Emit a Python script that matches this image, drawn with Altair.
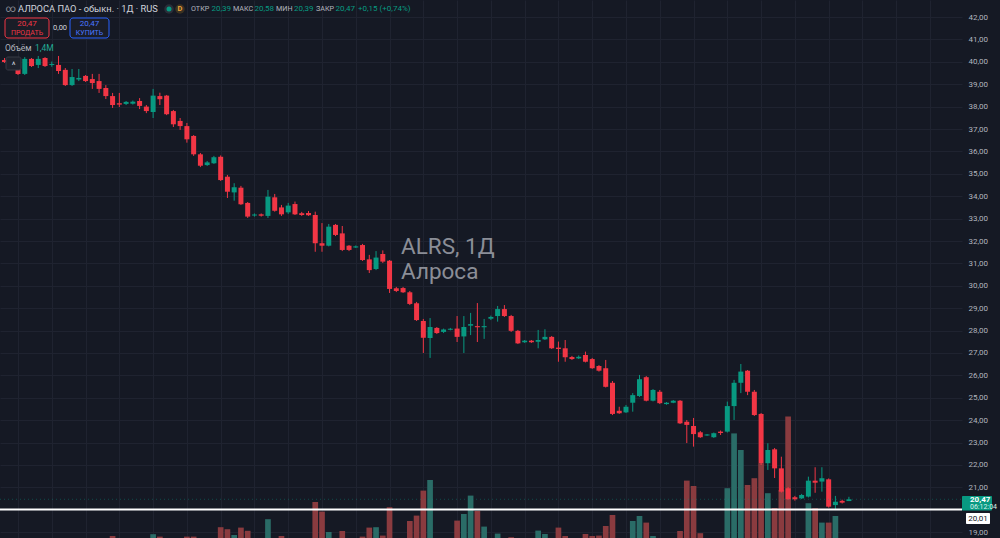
import altair as alt
import pandas as pd

# ---------------- data (daily candles, oldest -> newest) ----------------
opens = [40.08, 40.04, 39.68, 39.46, 40.13, 39.86, 40.17, 39.86, 39.86, 39.64,
         38.96, 39.21, 39.37, 39.23, 39.14, 38.83, 38.47, 38.15, 38.12, 38.13,
         38.25, 38.00, 37.76, 38.47, 38.49, 37.80, 37.36, 37.13, 36.69, 35.87,
         35.39, 35.47, 35.76, 34.87, 34.17, 34.38, 33.70, 33.14, 33.19, 33.12,
         33.95, 33.50, 33.28, 33.65, 33.24, 33.25, 33.16, 31.90, 31.79, 32.72,
         32.34, 31.79, 31.71, 31.82, 31.18, 30.75, 31.42, 31.12, 29.89, 29.90,
         29.71, 29.22, 28.43, 27.67, 28.12, 27.94, 28.04, 28.09, 27.74, 28.22,
         28.20, 28.15, 28.53, 28.65, 28.96, 28.65, 27.99, 27.48, 27.55, 27.50,
         27.61, 27.72, 27.24, 27.21, 26.82, 26.76, 26.91, 26.73, 26.42, 26.32,
         25.67, 24.42, 24.35, 24.78, 25.08, 25.92, 24.87, 25.27, 24.72, 24.78,
         24.87, 23.93, 23.74, 23.46, 23.32, 23.24, 23.49, 23.49, 24.63, 25.67,
         26.21, 25.27, 24.28, 22.08, 22.70, 21.85, 20.96, 20.56, 20.51, 20.59,
         21.30, 21.26, 21.36, 20.21, 20.40, 20.39]
highs = [40.17, 40.13, 39.77, 40.21, 40.17, 40.26, 40.21, 40.01, 40.26, 39.72,
         39.68, 39.68, 39.41, 39.46, 39.46, 38.96, 38.61, 38.61, 38.25, 38.27,
         38.38, 38.07, 38.79, 38.62, 38.52, 37.85, 37.49, 37.27, 36.73, 35.93,
         35.57, 35.80, 35.82, 34.95, 34.58, 34.46, 33.74, 33.23, 33.23, 34.28,
         34.10, 33.61, 33.70, 33.76, 33.30, 33.34, 33.31, 32.80, 32.76, 32.76,
         32.67, 31.82, 31.80, 31.87, 31.38, 31.55, 31.58, 31.15, 29.95, 29.95,
         29.77, 29.28, 28.52, 28.56, 28.16, 28.09, 28.12, 28.65, 28.65, 28.79,
         29.23, 28.52, 28.67, 29.10, 29.14, 28.70, 28.03, 27.58, 27.58, 28.03,
         28.06, 27.76, 27.51, 27.58, 26.87, 26.89, 27.06, 26.78, 26.46, 26.69,
         25.75, 24.60, 24.68, 25.21, 26.02, 25.97, 25.39, 25.35, 24.81, 24.90,
         24.90, 24.01, 24.10, 23.52, 23.38, 23.45, 23.54, 24.83, 25.80, 26.51,
         26.24, 25.35, 24.32, 22.97, 22.76, 22.37, 21.02, 20.62, 20.71, 21.48,
         21.90, 21.90, 21.40, 20.62, 20.45, 20.58]
lows = [39.95, 39.64, 39.41, 39.41, 39.77, 39.72, 39.77, 39.78, 39.46, 38.92,
        38.92, 39.14, 39.10, 38.79, 38.61, 38.34, 37.94, 37.98, 38.07, 38.09,
        37.89, 37.71, 37.49, 38.07, 37.62, 37.09, 36.96, 36.39, 35.80, 35.30,
        35.35, 35.44, 34.68, 33.92, 33.80, 33.61, 33.03, 33.09, 33.09, 33.03,
        33.31, 33.12, 33.21, 33.16, 33.12, 33.12, 31.52, 31.52, 31.76, 32.22,
        31.55, 31.55, 31.69, 31.11, 30.57, 30.70, 31.02, 29.68, 29.72, 29.68,
        29.14, 28.43, 27.00, 26.78, 27.85, 27.89, 28.01, 27.49, 27.00, 27.80,
        27.49, 27.63, 28.47, 28.40, 28.61, 27.94, 27.40, 27.45, 27.45, 27.21,
        27.58, 27.18, 26.61, 26.61, 26.69, 26.73, 26.58, 26.29, 26.17, 25.46,
        24.23, 24.28, 24.32, 24.38, 25.04, 24.84, 24.84, 24.72, 24.69, 24.76,
        23.83, 22.98, 22.82, 23.21, 23.30, 23.21, 23.34, 23.45, 24.01, 25.21,
        25.12, 24.19, 22.00, 21.78, 21.42, 20.77, 20.44, 20.41, 20.48, 20.55,
        20.76, 20.81, 20.10, 19.99, 20.28, 20.39]
closes = [39.99, 39.72, 39.46, 40.13, 39.81, 40.13, 39.81, 39.90, 39.59, 38.96,
          39.32, 39.28, 39.14, 39.05, 38.79, 38.47, 38.07, 38.09, 38.21, 38.22,
          38.03, 37.80, 38.49, 38.33, 37.66, 37.21, 37.13, 36.54, 35.87, 35.36,
          35.51, 35.74, 34.72, 34.20, 34.40, 33.64, 33.09, 33.18, 33.13, 33.98,
          33.35, 33.19, 33.58, 33.19, 33.16, 33.15, 31.90, 31.79, 32.64, 32.27,
          31.60, 31.60, 31.76, 31.15, 30.70, 31.26, 31.08, 29.86, 29.77, 29.71,
          29.19, 28.47, 27.68, 28.16, 27.89, 28.05, 28.08, 27.72, 28.16, 28.29,
          28.15, 28.20, 28.61, 28.96, 28.65, 27.99, 27.43, 27.55, 27.48, 27.58,
          27.72, 27.21, 27.18, 26.81, 26.73, 26.83, 26.61, 26.32, 26.21, 25.49,
          24.28, 24.31, 24.60, 25.12, 25.83, 24.87, 25.35, 24.76, 24.78, 24.87,
          23.86, 23.79, 23.38, 23.24, 23.36, 23.42, 23.43, 24.63, 25.67, 26.17,
          25.27, 24.23, 22.08, 22.67, 21.85, 20.81, 20.47, 20.47, 20.66, 21.30,
          21.21, 21.41, 20.14, 20.36, 20.32, 20.47]
volumes_m = [3.0, 2.8, 3.2, 3.5, 2.6, 2.9, 2.4, 2.0, 3.1, 3.4,
             2.7, 2.2, 2.1, 2.6, 3.0, 3.3, 5.0, 2.9, 2.0, 1.9,
             2.6, 2.8, 5.9, 4.7, 3.6, 3.4, 3.0, 4.7, 4.7, 3.5,
             2.2, 2.6, 9.4, 8.4, 5.5, 9.2, 7.6, 2.4, 2.3, 13.4,
             3.8, 5.0, 3.2, 3.6, 2.1, 2.3, 22.0, 17.2, 7.0, 3.4,
             7.5, 3.0, 2.0, 4.7, 9.2, 9.4, 5.2, 19.4, 2.9, 3.8,
             12.5, 15.2, 27.7, 33.0, 3.6, 2.4, 2.0, 12.7, 16.0, 25.2,
             17.5, 9.7, 3.8, 6.2, 3.7, 4.4, 3.9, 2.0, 2.2, 7.7,
             6.0, 3.6, 9.2, 5.0, 2.5, 2.3, 6.0, 5.0, 5.2, 10.0,
             15.5, 3.9, 3.6, 12.5, 15.0, 11.7, 5.0, 3.9, 2.1, 3.4,
             7.5, 32.7, 30.0, 6.4, 2.6, 3.5, 2.4, 28.9, 56.3, 48.0,
             30.5, 33.9, 41.4, 26.4, 19.0, 28.0, 64.7, 3.5, 3.0, 21.4,
             18.9, 11.7, 11.7, 15.0, 3.5, 1.4]

price_ticks = [42, 41, 40, 39, 38, 37, 36, 35, 34, 33, 32, 31, 30, 29, 28,
               27, 26, 25, 24, 23, 22, 21, 19]
time_grid = list(range(2, 142, 5))
hline_price = 20.01
last_price = 20.47

df = pd.DataFrame({"i": list(range(len(opens))), "open": opens, "high": highs,
                   "low": lows, "close": closes, "vol": volumes_m})

# ---------------- styles ----------------
BG = "#151924"
GRID = "#1f2330"
UP = "#089981"
DOWN = "#f23645"
UP_VOL = "#2a6c67"
DOWN_VOL = "#8a3b3f"
TXT = "#d1d4dc"
AX = "#b2b5be"
FONT = "Roboto"

W, H = 962, 538
xs = alt.Scale(domain=[-0.666, 141.74], nice=False, zero=False)
ps = alt.Scale(domain=[18.741, 42.759], nice=False, zero=False)
vs = alt.Scale(domain=[4, 273], nice=False, zero=False)

x_axis = alt.Axis(values=time_grid, grid=True, gridColor=GRID, labels=False,
                  ticks=False, domain=False, title=None)
p_axis = alt.Axis(orient="right", values=price_ticks, grid=True, gridColor=GRID,
                  labelExpr="replace(format(datum.value, '.2f'), '.', ',')",
                  labelColor=AX, labelFontSize=8, labelFont=FONT, labelPadding=6,
                  labelAlign="left", ticks=False, domain=False, title=None)

up_test = "datum.close >= datum.open"

base = alt.Chart(df).transform_calculate(
    bx1="datum.i - 0.37", bx2="datum.i + 0.37",
    vx1="datum.i - 0.42", vx2="datum.i + 0.42",
    zero="0",
    btop="max(datum.open, datum.close)", bbot="min(datum.open, datum.close)",
).transform_calculate(
    bt="(datum.btop - datum.bbot) < 0.045 ? (datum.btop + datum.bbot) / 2 + 0.0225 : datum.btop",
    bb="(datum.btop - datum.bbot) < 0.045 ? (datum.btop + datum.bbot) / 2 - 0.0225 : datum.bbot",
)

volume = base.mark_rect(clip=True).encode(
    x=alt.X("vx1:Q", scale=xs, axis=x_axis), x2="vx2:Q",
    y=alt.Y("zero:Q", scale=vs, axis=None), y2="vol:Q",
    color=alt.condition(up_test, alt.value(UP_VOL), alt.value(DOWN_VOL)),
)

wicks = base.mark_rule(strokeWidth=1, clip=True).encode(
    x=alt.X("i:Q", scale=xs, axis=x_axis),
    y=alt.Y("low:Q", scale=ps, axis=p_axis), y2="high:Q",
    color=alt.condition(up_test, alt.value(UP), alt.value(DOWN)),
)

bodies = base.mark_rect(clip=True).encode(
    x=alt.X("bx1:Q", scale=xs, axis=x_axis), x2="bx2:Q",
    y=alt.Y("bt:Q", scale=ps, axis=p_axis), y2="bb:Q",
    color=alt.condition(up_test, alt.value(UP), alt.value(DOWN)),
)

last_line = alt.Chart(pd.DataFrame({"p": [last_price]})).mark_rule(
    color=UP, strokeWidth=1, strokeDash=[1, 3], opacity=0.4
).encode(y=alt.Y("p:Q", scale=ps, axis=p_axis), x=alt.value(0), x2=alt.value(W))

h_line = alt.Chart(pd.DataFrame({"p": [hline_price]})).mark_rule(
    color="#ffffff", strokeWidth=2
).encode(y=alt.Y("p:Q", scale=ps, axis=p_axis), x=alt.value(0), x2=alt.value(W))

one = pd.DataFrame({"k": [0]})


def txt(s, x, y, size=9, color=TXT, align="left", weight="normal", font=FONT, opacity=1.0):
    return alt.Chart(one).mark_text(
        align=align, baseline="middle", fontSize=size, font=font,
        fontWeight=weight, color=color, opacity=opacity
    ).encode(x=alt.value(x), y=alt.value(y), text=alt.value(s))


def box(x1, x2, y1, y2, fill, stroke=None, radius=0, sw=1):
    kw = dict(fill=fill, cornerRadius=radius)
    if stroke:
        kw["stroke"] = stroke
        kw["strokeWidth"] = sw
    return alt.Chart(one).mark_rect(**kw).encode(
        x=alt.value(x1), x2=alt.value(x2), y=alt.value(y1), y2=alt.value(y2))


def dot(x, y, size, fill):
    return alt.Chart(one).mark_point(filled=True, size=size, color=fill, opacity=1).encode(
        x=alt.value(x), y=alt.value(y))


overlays = [
    # header
    txt("∞", 11, 9, 10, "#8a8d96", "center"),
    txt("АЛРОСА ПАО - обыкн. · 1Д · RUS", 18, 9, 9.3, TXT),
    dot(169, 9, 90, "#2a2e39"), dot(169, 9, 25, UP),
    dot(180, 9, 90, "#3a3222"), txt("D", 180, 9, 7.5, "#e9a23b", "center", "bold"),
    txt("ОТКР", 191, 9, 7.2, AX), txt("20,39", 211.5, 9, 8, UP),
    txt("МАКС", 233, 9, 7.2, AX), txt("20,58", 254.5, 9, 8, UP),
    txt("МИН", 276, 9, 7.2, AX), txt("20,39", 294, 9, 8, UP),
    txt("ЗАКР", 316, 9, 7.2, AX), txt("20,47", 335.5, 9, 8, UP),
    txt("+0,15 (+0,74%)", 358, 9, 8, UP),
    # trading buttons
    box(5, 49, 18, 38, "#1a1d27", DOWN, 3),
    txt("20,47", 27, 23.5, 8, DOWN, "center"),
    txt("ПРОДАТЬ", 27, 32.5, 7, DOWN, "center"),
    txt("0,00", 60, 28, 7.5, TXT, "center"),
    box(70, 109, 18, 38, "#1a1d27", "#2962ff", 3),
    txt("20,47", 89.5, 23.5, 8, "#4a78ff", "center"),
    txt("КУПИТЬ", 89.5, 32.5, 7, "#4a78ff", "center"),
    # volume legend
    txt("Объём", 5, 48, 8.5, AX),
    txt("1,4M", 35, 48, 8.5, "#22ab94"),
    # collapse button
    box(6, 21, 57, 70, "#1e222d", "#363a45", 2),
    txt("^", 13.5, 65, 9, TXT, "center"),
    # watermark
    txt("ALRS, 1Д", 401, 247, 22.5, "#8b8e97"),
    txt("Алроса", 401, 272, 22.5, "#8b8e97"),
    # price scale labels
    box(962, 992, 496, 510.5, UP, None, 1),
    txt("20,47", 970, 499.5, 8, "#ffffff", "left", "bold"),
    txt("06:12:04", 970, 506.5, 7, "#d9f2ee"),
    box(966, 990, 513, 524, "#ffffff", None, 1),
    txt("20,01", 978, 518.5, 8, "#131722", "center"),
]

price_group = alt.layer(wicks, bodies, last_line, h_line, *overlays)

chart = alt.layer(volume, price_group).resolve_scale(y="independent").properties(
    width=W, height=H, autosize="none",
    padding={"left": 0, "top": 0, "right": 1000 - W, "bottom": 0},
    background=BG,
).configure_view(stroke=None, fill=BG)

chart.save("out.html", embed_options={"renderer": "svg", "actions": False})
